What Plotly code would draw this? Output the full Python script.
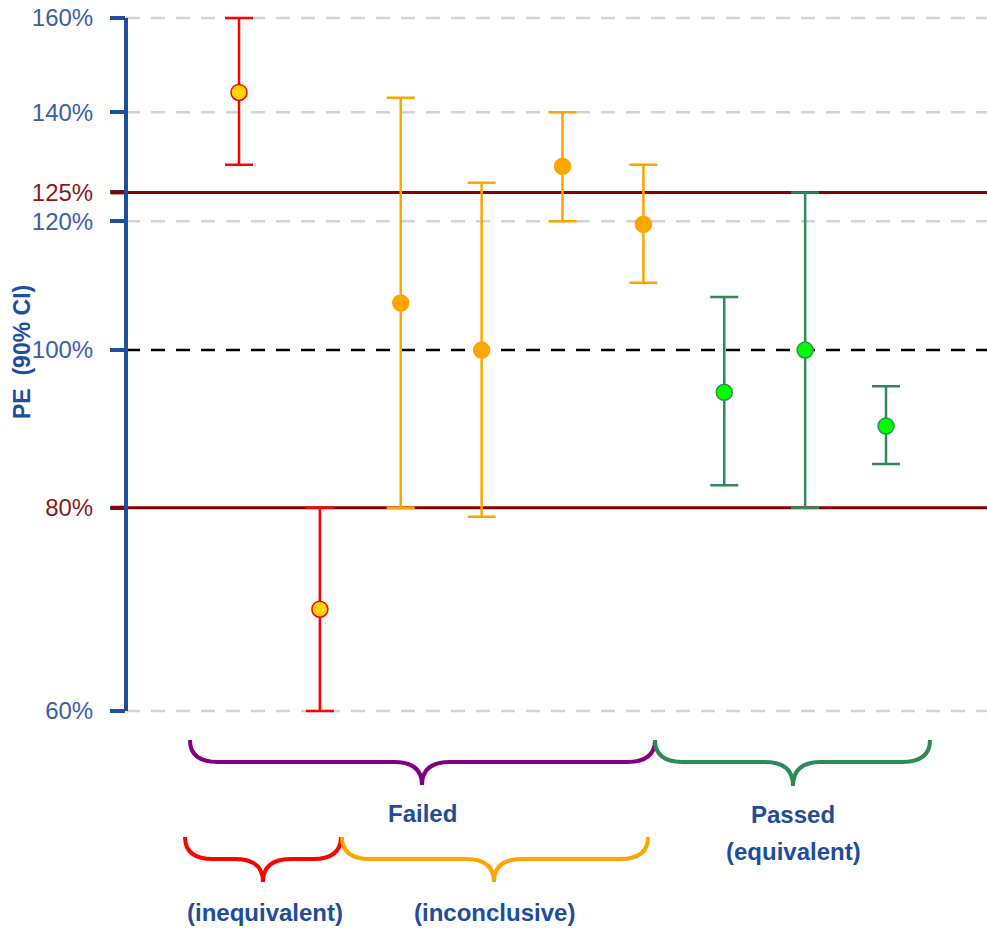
import math
import plotly.graph_objects as go

# Point estimates with 90% confidence intervals (percent of reference)
tests = [1, 2, 3, 4, 5, 6, 7, 8, 9]
pe = [144.0, 69.3, 106.9, 100.0, 129.7, 119.5, 94.2, 100.0, 89.8]
ci_low = [130.0, 60.0, 80.0, 79.0, 120.0, 110.0, 82.6, 80.0, 85.1]
ci_high = [160.0, 80.0, 142.9, 126.7, 140.0, 130.0, 107.8, 125.0, 95.0]
outcome = ["inequivalent", "inequivalent",
           "inconclusive", "inconclusive", "inconclusive", "inconclusive",
           "equivalent", "equivalent", "equivalent"]

y_ticks = [60, 80, 100, 120, 125, 140, 160]
grid_levels = [60, 120, 140, 160]
limits = [80, 125]
reference = 100

# Canvas geometry
W, H = 987, 929
ML, MR, MT, MB = 126, 0, 14, 213
PW, PH = W - ML - MR, H - MT - MB
Y_TOP_PX, Y_BOT_PX = 18, 711          # where 160% and 60% sit


def px(x):
    return (x - ML) / PW


def py(y):
    return (H - MB - y) / PH


k = (Y_BOT_PX - Y_TOP_PX) / (math.log10(160) - math.log10(60))
y_range = [math.log10(60) - (H - MB - Y_BOT_PX) / k,
           math.log10(160) + (Y_TOP_PX - MT) / k]
x_first, x_step = 239, 80.875
x_range = [1 - (x_first - ML) / x_step, 1 + (W - MR - x_first) / x_step]

BLUE_AXIS = "#1F4EA0"
BLUE_TEXT = "#3B5EAB"
BLUE_NOTE = "#1E4D9B"
DARK_RED = "#8B0000"
LIMIT_LABEL = "#8B1A1A"

styles = {
    "inequivalent": dict(line="#FF0000", fill="#FFD700", edge="#FF0000"),
    "inconclusive": dict(line="#FFA500", fill="#FFA500", edge="#FFA500"),
    "equivalent": dict(line="#2E8B57", fill="#00FF00", edge="#2E8B57"),
}

fig = go.Figure()

for cls in ["inequivalent", "inconclusive", "equivalent"]:
    idx = [i for i, o in enumerate(outcome) if o == cls]
    st = styles[cls]
    fig.add_trace(go.Scatter(
        x=[tests[i] for i in idx],
        y=[pe[i] for i in idx],
        mode="markers",
        cliponaxis=False,
        showlegend=False,
        marker=dict(size=16, color=st["fill"], line=dict(color=st["edge"], width=1.5)),
        error_y=dict(
            type="data", symmetric=False,
            array=[ci_high[i] - pe[i] for i in idx],
            arrayminus=[pe[i] - ci_low[i] for i in idx],
            color=st["line"], thickness=2.5, width=14,
        ),
    ))

shapes = []
# light dashed gridlines
for g in grid_levels:
    shapes.append(dict(type="line", xref="paper", yref="y", x0=0, x1=1, y0=g, y1=g,
                       line=dict(color="#D3D3D3", width=2.5, dash="14px,11px"), layer="below"))
# reference line at 100%
shapes.append(dict(type="line", xref="paper", yref="y", x0=0, x1=1, y0=reference, y1=reference,
                   line=dict(color="#000000", width=2.5, dash="14px,11px"), layer="below"))
# acceptance limits
for lim in limits:
    shapes.append(dict(type="line", xref="paper", yref="y", x0=0, x1=1, y0=lim, y1=lim,
                       line=dict(color=DARK_RED, width=3), layer="below"))
    shapes.append(dict(type="line", xref="paper", yref="y", x0=px(111), x1=px(124), y0=lim, y1=lim,
                       line=dict(color=DARK_RED, width=4), layer="above"))
# vertical axis line
shapes.append(dict(type="line", xref="paper", yref="y", x0=0, x1=0, y0=60, y1=160,
                   line=dict(color=BLUE_AXIS, width=4), layer="above"))


def brace(x0, x1, xc, ytop, yh, ytip, r=28):
    pts = [
        f"M {px(x0)},{py(ytop)}",
        f"Q {px(x0)},{py(yh)} {px(x0 + r)},{py(yh)}",
        f"L {px(xc - r)},{py(yh)}",
        f"Q {px(xc)},{py(yh)} {px(xc)},{py(ytip)}",
        f"Q {px(xc)},{py(yh)} {px(xc + r)},{py(yh)}",
        f"L {px(x1 - r)},{py(yh)}",
        f"Q {px(x1)},{py(yh)} {px(x1)},{py(ytop)}",
    ]
    return " ".join(pts)


brace_specs = [
    (190, 655, 422, 740, 762, 785, "#800080"),
    (655, 930, 793, 740, 762, 786, "#2E8B57"),
    (185, 341, 263, 837, 859, 882, "#FF0000"),
    (342, 648, 494, 837, 859, 882, "#FFA500"),
]
for x0, x1, xc, yt, yh, ytip, col in brace_specs:
    shapes.append(dict(type="path", xref="paper", yref="paper", path=brace(x0, x1, xc, yt, yh, ytip),
                       line=dict(color=col, width=4), layer="above"))

note_font = dict(family="Liberation Sans, Arial, sans-serif", size=24, color=BLUE_NOTE)
notes = [
    ("<b>Failed</b>", 422, 813),
    ("<b>Passed</b>", 793, 814),
    ("<b>(equivalent)</b>", 793, 852),
    ("<b>(inequivalent)</b>", 265, 912),
    ("<b>(inconclusive)</b>", 494, 912),
]
annotations = [dict(text=t, x=px(x), y=py(y), xref="paper", yref="paper", showarrow=False,
                    xanchor="center", yanchor="middle", borderpad=0, font=note_font)
               for t, x, y in notes]
annotations.append(dict(text="<b>PE&nbsp;&nbsp;(90% CI)</b>", x=px(22), y=py(352), xref="paper", yref="paper",
                        showarrow=False, textangle=-90, xanchor="center", yanchor="middle",
                        font=dict(family="Liberation Sans, Arial, sans-serif", size=23, color=BLUE_AXIS)))


def tick_label(v):
    if v in limits:
        return f'<span style="color:{LIMIT_LABEL}">{v}%</span>'
    return f"{v}%"


fig.update_layout(
    width=W, height=H,
    margin=dict(l=ML, r=MR, t=MT, b=MB, pad=0),
    paper_bgcolor="white", plot_bgcolor="white",
    shapes=shapes, annotations=annotations,
    xaxis=dict(range=x_range, visible=False, fixedrange=True),
    yaxis=dict(
        type="log", range=y_range, showgrid=False, zeroline=False, showline=False,
        tickmode="array", tickvals=y_ticks, ticktext=[tick_label(v) for v in y_ticks],
        ticks="outside", ticklen=15, tickwidth=4, tickcolor=BLUE_AXIS,
        ticklabelstandoff=12,
        tickfont=dict(family="Liberation Sans, Arial, sans-serif", size=24, color=BLUE_TEXT),
        fixedrange=True,
    ),
)

fig.write_html("out.html")
